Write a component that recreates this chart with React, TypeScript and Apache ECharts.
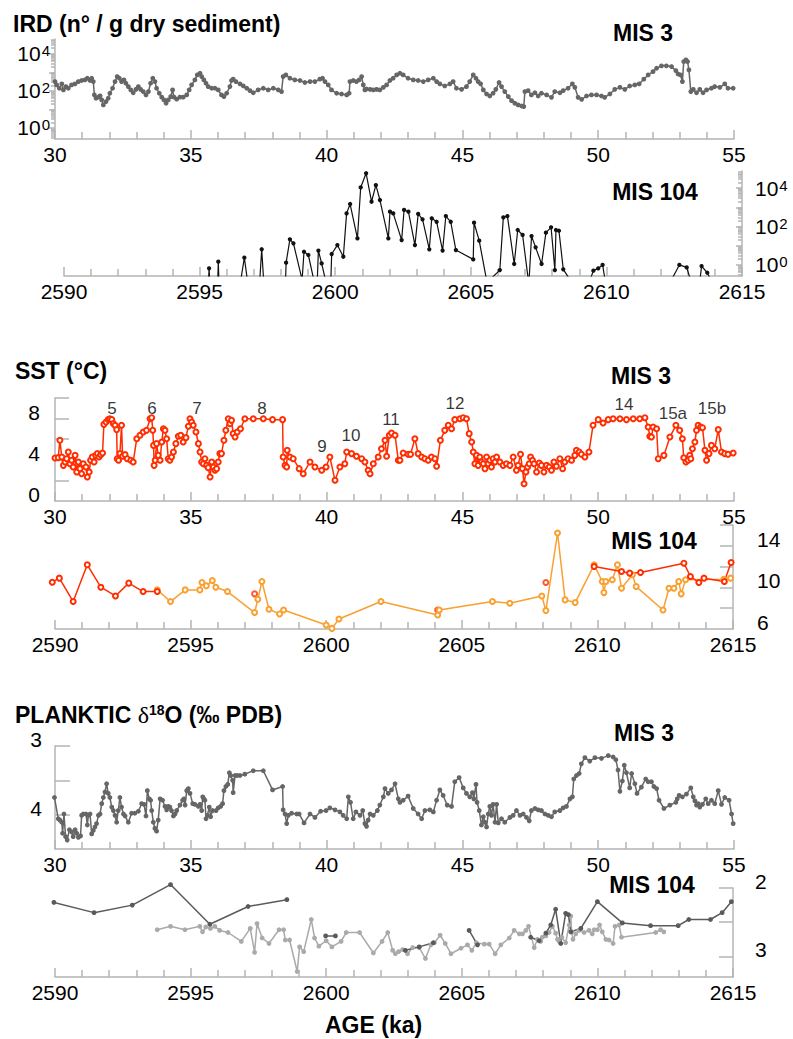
import React, { useEffect, useRef } from 'react';
import * as echarts from 'echarts';

const FONT = '"Liberation Sans", Arial, Helvetica, sans-serif';
const AXIS = '#b4b4b4';
const RED = '#ff2d00';
const ORANGE = '#f9a030';
const GRAY = '#666666';

// ---------- X ranges ----------
const mis3Range = [30, 55];
const mis104Range = [2590, 2615];

// ---------- IRD (log10 of n/g dry sediment) ----------
const irdMis3: number[][] = [
  [30.00,2.50],[30.06,2.32],[30.16,2.14],[30.25,2.38],[30.31,2.05],[30.40,2.23],[30.49,2.14],[30.61,2.32],[30.74,2.38],[30.86,2.50],[30.98,2.56],[31.10,2.59],[31.19,2.68],[31.29,2.56],[31.35,2.68],[31.41,2.50],[31.45,1.78],[31.51,1.60],[31.60,1.66],[31.66,1.73],[31.72,1.51],[31.78,1.24],[31.88,1.42],[31.96,1.60],[32.02,1.87],[32.12,2.14],[32.21,2.50],[32.29,2.77],[32.37,2.68],[32.45,2.50],[32.54,2.59],[32.61,2.41],[32.70,2.23],[32.79,2.05],[32.88,1.90],[32.98,2.08],[33.07,2.23],[33.15,2.08],[33.25,1.96],[33.35,1.78],[33.44,1.96],[33.52,2.41],[33.60,2.68],[33.68,2.50],[33.74,2.14],[33.84,1.87],[33.93,1.66],[34.01,1.51],[34.09,1.33],[34.17,1.51],[34.26,1.69],[34.33,2.05],[34.38,1.66],[34.48,1.55],[34.60,1.66],[34.72,1.66],[34.85,1.78],[34.94,2.05],[35.03,2.32],[35.15,2.59],[35.24,2.86],[35.34,2.95],[35.40,2.77],[35.48,2.59],[35.56,2.41],[35.64,2.23],[35.77,2.14],[35.89,2.14],[36.01,2.05],[36.13,1.78],[36.22,1.69],[36.32,1.87],[36.44,2.23],[36.50,2.56],[36.56,2.63],[36.66,2.50],[36.81,2.38],[36.93,2.27],[37.06,2.14],[37.18,2.01],[37.30,1.90],[37.48,2.05],[37.67,2.14],[37.85,2.05],[38.04,2.14],[38.22,2.05],[38.34,1.96],[38.40,2.77],[38.50,2.86],[38.65,2.68],[38.83,2.59],[39.02,2.56],[39.20,2.45],[39.39,2.50],[39.57,2.50],[39.75,2.63],[39.85,2.68],[39.94,2.50],[40.06,2.32],[40.18,2.05],[40.37,1.87],[40.55,1.83],[40.74,1.78],[40.83,1.87],[40.86,2.50],[40.98,2.56],[41.10,2.50],[41.20,2.59],[41.29,2.77],[41.35,2.32],[41.41,2.05],[41.47,2.10],[41.60,2.08],[41.72,2.05],[41.84,2.08],[41.96,2.05],[42.09,2.19],[42.21,2.32],[42.33,2.56],[42.45,2.68],[42.58,2.86],[42.70,2.95],
  [42.82,2.86],[43.00,2.68],[43.19,2.59],[43.37,2.56],[43.56,2.50],[43.74,2.59],[43.93,2.68],[44.05,2.50],[44.17,2.38],[44.35,2.26],[44.54,2.38],[44.66,2.50],[44.78,2.14],[44.97,2.08],[45.15,2.23],[45.27,2.50],[45.40,2.86],[45.50,2.68],[45.58,2.50],[45.67,2.38],[45.77,2.05],[45.89,1.83],[46.01,1.72],[46.13,1.87],[46.23,2.08],[46.35,2.45],[46.44,2.23],[46.56,1.96],[46.69,1.69],[46.81,1.47],[46.93,1.33],[47.05,1.24],[47.18,1.18],[47.26,1.15],[47.30,1.96],[47.42,2.01],[47.54,1.78],[47.67,1.90],[47.79,1.72],[47.91,1.87],[48.10,1.78],[48.28,1.65],[48.40,1.96],[48.59,1.90],[48.71,2.01],[48.89,2.14],[49.05,2.38],[49.14,2.19],[49.26,1.65],[49.39,1.54],[49.57,1.72],[49.75,1.78],[49.94,1.78],[50.12,1.72],[50.24,1.65],[50.43,1.83],[50.61,2.08],[50.80,2.19],[50.98,2.08],[51.16,2.26],[51.35,2.32],[51.51,2.38],[51.68,2.63],[51.84,2.86],[52.02,3.04],[52.15,3.22],[52.33,3.35],[52.51,3.35],[52.70,3.31],[52.86,3.09],[52.94,2.91],[53.03,2.86],[53.10,2.50],[53.15,3.58],[53.23,3.67],[53.29,3.58],[53.34,3.13],[53.41,1.96],[53.50,2.08],[53.62,1.90],[53.74,2.08],[53.86,1.90],[53.99,2.05],[54.17,2.14],[54.29,2.23],[54.48,2.19],[54.66,2.38],[54.78,2.14],[54.97,2.14],
];

// samples with no IRD (0 n/g) are drawn just below the axis floor (-0.8)
const irdMis104: number[][] = [
  [2595.33,-0.8],[2595.35,-0.20],[2595.37,-0.8],
  [2595.67,-0.8],[2595.69,0.15],[2595.71,-0.8],
  [2596.52,-0.8],[2596.65,0.36],[2596.76,-0.8],
  [2597.22,-0.8],[2597.29,0.80],[2597.36,-0.8],
  [2598.17,-0.8],[2598.19,0.10],[2598.33,1.32],[2598.46,1.11],[2598.78,-0.8],
  [2598.80,-0.8],[2598.85,0.67],[2599.01,0.50],[2599.21,-0.8],
  [2599.34,-0.8],[2599.38,0.73],[2599.50,0.06],[2599.64,-0.8],
  [2599.84,-0.8],[2599.87,0.55],[2600.08,1.02],[2600.30,0.41],[2600.42,2.68],[2600.55,3.17],[2600.82,1.37],[2600.94,4.04],[2601.14,4.78],[2601.34,3.29],[2601.50,4.16],[2601.65,3.38],[2601.96,1.37],[2602.02,2.77],[2602.14,2.68],[2602.45,1.28],[2602.54,2.86],[2602.70,2.77],[2602.94,1.02],[2603.06,2.65],[2603.22,2.37],[2603.47,0.80],[2603.56,2.42],[2603.74,2.24],[2603.96,0.73],[2604.08,2.54],[2604.26,2.24],[2604.45,0.76],[2605.09,0.27],[2605.12,2.19],[2605.31,1.25],[2605.58,-0.8],
  [2605.70,-0.8],[2606.07,-0.29],[2606.20,2.47],[2606.35,2.54],[2606.60,0.03],[2606.73,1.81],[2606.91,1.55],[2607.12,-0.8],
  [2607.15,-0.8],[2607.24,1.49],[2607.39,0.90],[2607.61,0.03],[2607.77,1.67],[2607.96,1.95],[2608.10,-0.29],[2608.14,1.81],[2608.25,1.77],[2608.41,-0.25],[2608.66,-0.8],
  [2609.40,-0.8],[2609.52,-0.32],[2609.70,-0.20],[2609.86,-0.02],[2609.95,-0.8],
  [2612.40,-0.8],[2612.69,-0.02],[2612.96,-0.15],[2613.10,-0.8],
  [2613.45,-0.8],[2613.51,-0.08],[2613.72,-0.43],[2613.85,-0.8],
];

// ---------- SST (°C) ----------
const sstMis3: number[][] = [
  [30.00,4.17],[30.12,4.21],[30.18,5.89],[30.25,4.27],[30.31,3.46],[30.37,3.79],[30.43,4.11],[30.49,4.76],[30.55,3.62],[30.61,3.95],[30.67,3.30],[30.74,4.43],[30.80,2.82],[30.86,3.79],[30.92,3.14],[30.98,2.65],[31.04,3.62],[31.14,3.30],[31.19,2.33],[31.26,2.82],[31.31,3.95],[31.37,4.27],[31.44,3.79],[31.50,4.43],[31.56,4.60],[31.62,4.27],[31.68,4.50],[31.75,4.66],[31.80,7.44],[31.88,7.67],[31.96,7.90],[32.02,7.99],[32.09,7.90],[32.15,7.51],[32.21,7.35],[32.27,6.93],[32.29,4.11],[32.34,3.95],[32.39,4.60],[32.45,7.35],[32.49,4.34],[32.58,4.50],[32.66,4.11],[32.79,3.95],[32.88,3.79],[33.01,6.05],[33.13,6.38],[33.25,6.70],[33.37,6.86],[33.50,7.99],[33.56,8.09],[33.60,6.86],[33.63,5.40],[33.65,3.46],[33.69,3.95],[33.74,5.57],[33.80,4.43],[33.87,3.95],[33.93,5.73],[33.99,7.02],[34.05,6.86],[34.11,6.05],[34.17,4.11],[34.23,3.95],[34.29,4.27],[34.36,4.76],[34.45,5.57],[34.54,6.28],[34.63,6.38],[34.72,5.73],[34.82,6.15],[34.91,7.25],[34.97,7.99],[35.03,7.67],[35.09,7.35],[35.19,6.70],[35.28,5.57],[35.34,4.76],[35.40,3.79],[35.46,3.62],[35.52,4.11],[35.58,3.46],[35.64,3.24],[35.71,2.33],[35.77,3.79],[35.83,3.30],[35.89,2.98],[35.95,3.14],[36.01,3.79],[36.07,4.60],[36.13,4.60],[36.22,5.89],[36.29,6.86],[36.38,7.99],[36.44,7.51],[36.50,7.83],[36.56,6.54],[36.63,6.21],[36.71,6.70],[36.83,7.02],[36.99,7.99],[37.30,7.99],[37.67,7.99],[38.01,7.90],[38.38,7.90],[38.40,4.27],[38.47,3.46],[38.53,3.30],[38.55,4.92],[38.65,4.27],[38.77,4.11],[38.99,3.14],[39.14,2.65],[39.39,3.79],[39.57,3.30],[39.82,2.98],[39.98,3.30],[40.12,4.27],[40.31,2.01],[40.49,3.30],[40.67,3.62],[40.74,4.76],[40.92,4.60],[41.10,4.34],[41.29,4.11],[41.41,3.79],[41.53,2.98],[41.60,2.65],[41.72,3.62],[41.90,4.27],[42.02,5.08],[42.15,5.89],[42.21,4.34],[42.31,6.38],[42.39,6.60],[42.52,6.38],[42.64,3.95],[42.70,3.95],
  [42.82,4.66],[43.00,4.53],[43.09,4.53],[43.25,6.05],[43.37,4.60],[43.50,4.27],[43.62,4.11],[43.74,3.95],[43.86,4.27],[43.99,4.11],[44.05,3.37],[44.19,5.89],[44.35,6.86],[44.48,7.35],[44.60,7.02],[44.72,7.90],[44.91,7.99],[45.03,8.09],[45.15,7.99],[45.25,6.54],[45.34,5.73],[45.40,4.76],[45.46,3.62],[45.52,4.43],[45.58,3.46],[45.64,4.27],[45.70,3.79],[45.77,3.62],[45.83,3.14],[45.89,4.27],[45.95,3.62],[46.01,3.95],[46.07,3.30],[46.13,4.11],[46.20,3.79],[46.26,4.27],[46.38,3.79],[46.50,3.46],[46.62,3.62],[46.75,3.46],[46.87,4.27],[46.99,2.98],[47.05,3.46],[47.14,4.53],[47.21,3.14],[47.27,1.68],[47.34,2.82],[47.40,3.30],[47.46,3.62],[47.51,4.27],[47.58,3.95],[47.64,3.62],[47.73,2.82],[47.83,3.69],[47.91,3.46],[48.00,2.82],[48.10,3.46],[48.20,3.30],[48.28,2.98],[48.37,3.79],[48.46,3.37],[48.59,4.11],[48.69,3.14],[48.77,3.79],[48.89,4.11],[49.02,3.95],[49.14,4.43],[49.20,4.92],[49.30,4.76],[49.38,4.53],[49.51,4.27],[49.66,4.76],[49.81,7.35],[50.00,7.90],[50.18,7.57],[50.37,7.90],[50.55,7.99],[50.80,7.99],[51.04,7.90],[51.29,7.99],[51.53,7.99],[51.72,8.09],[51.84,7.18],[51.90,6.28],[51.96,6.21],[52.02,7.18],[52.15,7.02],[52.21,4.11],[52.42,4.43],[52.64,6.21],[52.86,7.35],[53.00,6.86],[53.10,6.05],[53.15,4.20],[53.23,3.79],[53.31,3.95],[53.37,4.43],[53.41,4.11],[53.47,5.08],[53.56,5.73],[53.62,6.86],[53.68,7.35],[53.77,7.18],[53.84,7.12],[53.93,4.92],[53.99,3.95],[54.08,4.60],[54.17,5.40],[54.29,5.08],[54.42,6.93],[54.54,4.76],[54.66,4.60],[54.78,4.53],[54.97,4.66],
];

// interstadial numbers, placed at (age, SST level)
const sstEventNames = ['5', '6', '7', '8', '9', '10', '11', '12', '14', '15a', '15b'];
const sstEventAges = [32.10, 33.57, 35.23, 37.62, 39.83, 40.90, 42.37, 44.73, 50.95, 52.75, 54.19];
const sstEventLevels = [9.0, 9.0, 9.0, 9.0, 5.3, 6.4, 7.9, 9.5, 9.4, 8.5, 9.0];

const sstMis104Red: (number | null)[][] = [
  [2589.90,10.50],[2590.16,10.89],[2590.67,8.64],[2591.19,12.17],[2591.69,10.02],[2592.23,9.18],[2592.72,10.41],[2593.25,9.60],[2593.77,9.60],
  [2600.00,null],
  [2609.88,12.01],[2610.89,11.53],[2611.19,11.37],[2611.59,11.43],[2613.19,12.33],[2613.43,11.05],[2613.74,10.47],[2613.93,10.89],[2614.68,10.57],[2614.93,12.40],
];
const sstMis104RedSingles: number[][] = [[2597.36,9.38],[2604.11,7.83],[2608.10,10.47]];
const sstMis104Orange: number[][] = [
  [2593.77,9.76],[2594.26,8.64],[2594.80,9.76],[2595.34,9.76],[2595.42,10.47],[2595.58,10.15],[2595.80,10.66],[2595.93,10.02],[2596.36,9.60],[2597.36,7.58],[2597.48,8.86],[2597.63,10.57],[2597.89,7.90],[2598.28,7.45],[2598.43,7.83],[2600.00,6.39],[2600.21,6.06],[2600.47,6.96],[2602.02,8.64],[2604.11,7.35],[2604.17,7.83],[2606.13,8.64],[2606.77,8.48],[2607.95,9.18],[2608.10,7.77],[2608.53,15.23],[2608.81,8.80],[2609.18,8.54],[2609.88,12.17],[2610.18,10.57],[2610.24,9.50],[2610.31,10.57],[2610.55,10.73],[2610.74,12.17],[2610.89,9.92],[2611.29,11.21],[2611.43,10.08],[2612.42,7.83],[2612.64,9.92],[2612.82,9.92],[2613.00,10.57],[2613.09,9.38],[2613.25,10.73],[2614.66,10.79],[2614.91,10.89],
];

// ---------- Planktic d18O (‰ PDB) ----------
const d18oMis3: number[][] = [
  [29.98,3.75],[30.12,4.06],[30.18,4.08],[30.25,4.11],[30.28,4.27],[30.33,3.99],[30.39,4.32],[30.45,4.37],[30.53,4.22],[30.61,4.25],[30.67,4.32],[30.74,4.22],[30.80,4.27],[30.86,4.33],[30.94,4.31],[30.98,4.01],[31.04,3.99],[31.14,3.99],[31.19,4.15],[31.23,4.01],[31.29,3.99],[31.35,4.28],[31.41,4.23],[31.47,4.18],[31.53,4.13],[31.60,4.01],[31.66,3.99],[31.72,3.84],[31.78,3.75],[31.84,3.67],[31.90,3.55],[31.96,3.69],[32.02,3.75],[32.09,3.89],[32.15,3.94],[32.21,4.01],[32.27,4.11],[32.33,3.94],[32.39,3.75],[32.45,3.89],[32.52,3.99],[32.58,4.02],[32.70,4.11],[32.82,3.98],[32.94,3.98],[33.07,3.95],[33.19,3.84],[33.28,3.85],[33.35,4.02],[33.40,3.65],[33.47,3.77],[33.52,3.79],[33.56,3.94],[33.62,4.11],[33.68,4.20],[33.74,4.24],[33.80,4.08],[33.87,3.77],[33.96,3.79],[34.05,3.88],[34.11,3.93],[34.17,3.88],[34.23,3.89],[34.29,3.94],[34.36,4.02],[34.42,3.99],[34.48,3.94],[34.60,3.86],[34.70,3.79],[34.75,3.77],[34.79,3.86],[34.85,3.65],[34.91,3.62],[34.97,3.69],[35.07,3.84],[35.15,3.85],[35.28,3.88],[35.34,3.85],[35.40,3.94],[35.44,3.74],[35.48,3.77],[35.52,3.79],[35.56,4.06],[35.61,4.01],[35.68,3.89],[35.73,4.03],[35.80,3.94],[35.93,3.94],[36.01,3.90],[36.10,3.88],[36.17,3.84],[36.22,3.65],[36.29,3.59],[36.36,3.56],[36.42,3.39],[36.47,3.43],[36.54,3.50],[36.56,3.68],[36.63,3.43],[36.71,3.43],[36.81,3.43],[36.99,3.41],[37.30,3.36],[37.67,3.36],[38.01,3.64],[38.38,3.59],[38.40,3.93],[38.47,3.99],[38.53,4.13],[38.59,4.01],[38.71,3.98],[38.90,3.99],[38.99,3.99],[39.17,4.12],[39.39,3.99],[39.57,4.04],[39.78,3.95],[39.98,3.94],[40.12,3.90],[40.31,3.93],[40.49,3.96],[40.61,4.01],[40.74,4.06],[40.80,3.74],[40.88,3.82],[40.98,4.06],[41.08,3.96],[41.23,4.01],[41.33,3.94],[41.41,4.13],[41.47,4.17],[41.53,4.08],[41.60,3.99],[41.72,4.01],[41.87,3.94],[41.96,3.86],[42.09,3.74],[42.15,3.62],[42.27,3.69],[42.39,3.64],[42.52,3.55],[42.64,3.77],[42.70,3.82],
  [42.82,3.79],[43.00,3.73],[43.19,3.91],[43.37,3.99],[43.50,4.06],[43.62,3.94],[43.80,3.93],[43.93,3.96],[44.05,3.79],[44.17,3.64],[44.29,3.72],[44.44,3.86],[44.60,3.88],[44.72,3.52],[44.88,3.46],[45.03,3.61],[45.15,3.69],[45.27,3.74],[45.37,3.68],[45.42,3.77],[45.50,3.56],[45.54,3.82],[45.62,3.94],[45.70,4.15],[45.77,4.03],[45.83,4.11],[45.89,4.18],[45.95,3.99],[46.01,3.88],[46.07,4.01],[46.13,3.85],[46.20,4.11],[46.26,3.85],[46.32,4.12],[46.44,4.06],[46.56,4.11],[46.75,4.04],[46.87,4.01],[46.99,3.94],[47.12,4.01],[47.24,3.99],[47.36,4.04],[47.46,4.09],[47.54,3.94],[47.67,3.91],[47.79,3.93],[47.91,3.94],[48.04,3.99],[48.16,4.01],[48.28,4.03],[48.40,3.96],[48.59,3.94],[48.71,3.90],[48.83,3.88],[48.96,3.77],[49.05,3.74],[49.10,3.48],[49.20,3.43],[49.30,3.40],[49.38,3.26],[49.51,3.17],[49.69,3.22],[49.88,3.17],[50.12,3.18],[50.37,3.14],[50.55,3.16],[50.65,3.20],[50.73,3.35],[50.80,3.66],[50.89,3.51],[50.96,3.28],[51.04,3.39],[51.16,3.61],[51.23,3.40],[51.35,3.55],[51.43,3.69],[51.59,3.60],[51.75,3.48],[51.84,3.52],[51.96,3.52],[52.05,3.59],[52.15,3.62],[52.24,3.79],[52.42,3.91],[52.64,3.86],[52.86,3.82],[52.91,3.77],[52.98,3.72],[53.10,3.74],[53.25,3.70],[53.41,3.61],[53.50,3.74],[53.56,3.80],[53.62,3.86],[53.68,3.84],[53.74,3.89],[53.84,3.85],[53.96,3.77],[54.05,3.84],[54.17,3.79],[54.29,3.84],[54.42,3.65],[54.54,3.85],[54.66,3.75],[54.82,3.79],[54.91,3.99],[54.97,4.13],
];

const d18oMis104Dark: (number | null)[][] = [
  [2589.96,2.21],[2591.44,2.36],[2592.85,2.25],[2594.26,1.95],[2595.71,2.53],[2597.12,2.27],[2598.55,2.17],
  [2599.50,null],
  [2599.98,2.70],[2600.34,2.70],
  [2601.50,null],
  [2602.92,2.91],[2603.43,2.86],[2603.95,2.80],
  [2604.50,null],
  [2605.27,2.62],[2605.58,2.83],
  [2606.50,null],
  [2607.54,2.72],[2607.85,2.77],[2608.10,2.66],[2608.28,2.54],[2608.46,2.31],[2608.65,2.81],[2608.83,2.37],[2608.93,2.39],[2609.02,2.64],[2609.39,2.59],[2610.00,2.20],[2610.92,2.51],[2611.96,2.55],[2612.98,2.55],[2613.37,2.46],[2614.17,2.46],[2614.60,2.36],[2614.94,2.20],
];
const d18oMis104Light: number[][] = [
  [2593.77,2.61],[2594.26,2.56],[2594.79,2.61],[2595.34,2.56],[2595.44,2.64],[2595.56,2.57],[2595.73,2.59],[2595.89,2.56],[2596.07,2.62],[2596.38,2.65],[2596.87,2.78],[2597.20,2.59],[2597.36,2.94],[2597.45,2.52],[2597.64,2.73],[2597.89,2.81],[2598.26,2.61],[2598.43,2.61],[2598.49,2.76],[2598.65,2.76],[2598.93,3.22],[2599.02,2.86],[2599.17,2.93],[2599.45,2.46],[2599.57,2.73],[2599.73,2.85],[2600.00,2.77],[2600.21,2.86],[2600.55,2.78],[2600.74,2.65],[2601.23,2.65],[2601.74,2.95],[2602.06,2.78],[2602.27,2.65],[2602.45,2.91],[2602.55,2.96],[2602.67,2.93],[2602.82,2.90],[2603.00,2.96],[2603.19,2.87],[2603.43,2.87],[2603.66,3.03],[2603.86,2.83],[2603.99,2.80],[2604.20,2.69],[2604.39,2.81],[2604.60,2.96],[2604.97,2.88],[2605.21,2.83],[2605.37,2.91],[2605.54,2.80],[2605.83,2.82],[2606.01,2.82],[2606.23,2.96],[2606.44,2.83],[2606.75,2.73],[2606.93,2.62],[2607.12,2.67],[2607.24,2.67],[2607.36,2.62],[2607.46,2.56],[2607.67,2.87],[2607.79,2.75],[2607.91,2.78],[2607.97,2.72],[2608.10,2.70],[2608.22,2.65],[2608.34,2.56],[2608.46,2.66],[2608.53,2.75],[2608.59,2.78],[2608.69,2.72],[2608.83,2.80],[2608.96,2.54],[2609.02,2.41],[2609.05,2.64],[2609.10,2.75],[2609.20,2.67],[2609.32,2.62],[2609.51,2.65],[2609.69,2.62],[2609.81,2.67],[2609.88,2.61],[2610.00,2.61],[2610.08,2.54],[2610.18,2.64],[2610.31,2.75],[2610.43,2.76],[2610.58,2.81],[2610.65,2.56],[2610.80,2.54],[2610.89,2.72],[2612.15,2.65],[2612.33,2.61],[2612.45,2.64],
];

// ---------- tick values ----------
const irdMajorExps = [0, 1, 2, 3, 4];
const irdLabelExps = [0, 2, 4];
const sstMis3Ticks = [2, 4, 6, 8, 10];
const sstMis3Labels = [0, 4, 8];
const sstMis104Ticks = [8, 10, 12, 14, 16];
const sstMis104Labels = [6, 10, 14];
const d18oMis3Ticks = [3, 3.5, 4];
const d18oMis3Labels = [3, 4];
const d18oMis104Ticks = [2, 2.5, 3];
const d18oMis104Labels = [2, 3];

function logMinor(min: number, max: number): number[] {
  const out: number[] = [];
  for (let n = Math.floor(min); n <= Math.ceil(max); n++) {
    for (let k = 2; k <= 9; k++) {
      const v = n + Math.log10(k);
      if (v >= min && v <= max) out.push(v);
    }
  }
  return out;
}

const lineSt = { color: AXIS, width: 1.5 };

function xAxis(grid: number, range: number[]) {
  return {
    type: 'value', gridIndex: grid, min: range[0], max: range[1], interval: 5, position: 'bottom',
    axisLine: { show: true, onZero: false, lineStyle: lineSt },
    axisTick: { show: true, inside: true, length: 9, lineStyle: lineSt },
    minorTick: { show: true, splitNumber: 5, length: 7, lineStyle: lineSt },
    axisLabel: { color: '#000', fontSize: 21, fontFamily: FONT, margin: 5, formatter: (v: number) => String(v) },
    splitLine: { show: false }, minorSplitLine: { show: false },
  };
}

function yAxis(o: any) {
  const label: any = o.labels
    ? {
        show: true, customValues: o.labels, margin: o.margin, color: '#000', fontSize: 21, fontFamily: FONT,
        formatter: o.formatter || ((v: number) => String(v)), rich: o.rich,
      }
    : { show: false };
  if (o.labels && o.shiftUp) {
    label.verticalAlign = 'bottom';
    label.lineHeight = 13;
  }
  return {
    type: 'value', gridIndex: o.grid, position: o.pos, min: o.min, max: o.max, inverse: !!o.inverse,
    axisLine: { show: o.showLine !== false, onZero: false, lineStyle: lineSt },
    axisTick: { show: true, inside: o.inside, length: o.tickLen, customValues: o.ticks, lineStyle: lineSt },
    axisLabel: label,
    splitLine: { show: false },
  };
}

const powRich = {
  b: { fontSize: 21, fontFamily: FONT, color: '#000' },
  s: { fontSize: 15, fontFamily: FONT, color: '#000', verticalAlign: 'top', padding: [0, 0, 0, 1] },
};
const powFmt = (v: number) => `{b|10}{s|${Math.round(v)}}`;

function lineSeries(data: any[], xi: number, yi: number, color: string, symbol: string, size: number, width: number, clip = false) {
  return {
    type: 'line', xAxisIndex: xi, yAxisIndex: yi, data, color,
    symbol, symbolSize: size, showSymbol: true, connectNulls: false, clip, silent: true,
    lineStyle: { color, width }, itemStyle: { color, borderColor: color, borderWidth: 1.3 },
    emphasis: { disabled: true },
  };
}

function text(x: number, y: number, t: string, size: number, bold: boolean, align = 'left') {
  return {
    type: 'text', x, y, silent: true,
    style: { text: t, fontSize: size, fontWeight: bold ? 'bold' : 'normal', fontFamily: FONT, fill: '#000', align, verticalAlign: 'middle' },
  };
}

export default function App() {
  const ref = useRef<HTMLDivElement>(null);
  useEffect(() => {
    const chart = echarts.init(ref.current!, null, { renderer: 'svg' });
    const option: any = {
      animation: false,
      backgroundColor: '#ffffff',
      grid: [
        { left: 55, top: 39, width: 679, height: 100 },
        { left: 64, top: 171, width: 678, height: 105 },
        { left: 55, top: 398, width: 679, height: 103 },
        { left: 55, top: 525, width: 678, height: 104 },
        { left: 55, top: 746, width: 679, height: 103 },
        { left: 55, top: 888, width: 678, height: 89 },
      ],
      xAxis: [
        xAxis(0, mis3Range), xAxis(1, mis104Range), xAxis(2, mis3Range),
        xAxis(3, mis104Range), xAxis(4, mis3Range), xAxis(5, mis104Range),
      ],
      yAxis: [
        yAxis({ grid: 0, pos: 'left', min: -0.6, max: 4.8, ticks: irdMajorExps, labels: irdLabelExps, tickLen: 6, inside: false, margin: 5, formatter: powFmt, rich: powRich }),
        yAxis({ grid: 0, pos: 'left', min: -0.6, max: 4.8, ticks: logMinor(-0.6, 4.8), labels: null, tickLen: 4, inside: false, showLine: false }),
        yAxis({ grid: 1, pos: 'right', min: -0.6, max: 4.9, ticks: irdMajorExps, labels: irdLabelExps, tickLen: 6, inside: true, margin: 13, formatter: powFmt, rich: powRich }),
        yAxis({ grid: 1, pos: 'right', min: -0.6, max: 4.9, ticks: logMinor(-0.6, 4.9), labels: null, tickLen: 4, inside: true, showLine: false }),
        yAxis({ grid: 2, pos: 'left', min: 0, max: 10, ticks: sstMis3Ticks, labels: sstMis3Labels, tickLen: 14, inside: true, margin: 15, shiftUp: true }),
        yAxis({ grid: 3, pos: 'right', min: 6, max: 16, ticks: sstMis104Ticks, labels: sstMis104Labels, tickLen: 13, inside: true, margin: 24, shiftUp: true }),
        yAxis({ grid: 4, pos: 'left', min: 3, max: 4.5, inverse: true, ticks: d18oMis3Ticks, labels: d18oMis3Labels, tickLen: 15, inside: true, margin: 13, shiftUp: true }),
        yAxis({ grid: 5, pos: 'right', min: 2, max: 3.3, inverse: true, ticks: d18oMis104Ticks, labels: d18oMis104Labels, tickLen: 14, inside: true, margin: 22, shiftUp: true }),
      ],
      series: [
        lineSeries(irdMis3, 0, 0, GRAY, 'circle', 3.5, 1.5),
        lineSeries(irdMis104, 1, 2, '#111111', 'circle', 3, 1.2, true),
        lineSeries(sstMis3, 2, 4, RED, 'emptyCircle', 5, 1.5),
        {
          type: 'scatter', xAxisIndex: 2, yAxisIndex: 4, silent: true, symbol: 'circle', symbolSize: 1,
          itemStyle: { color: 'transparent' },
          data: sstEventNames.map((n, i) => ({ name: n, value: [sstEventAges[i], sstEventLevels[i]] })),
          label: { show: true, position: 'inside', formatter: '{b}', fontSize: 17, fontFamily: FONT, color: '#000' },
        },
        lineSeries(sstMis104Orange, 3, 5, ORANGE, 'emptyCircle', 5, 1.5),
        lineSeries(sstMis104Red, 3, 5, RED, 'emptyCircle', 5, 1.5),
        {
          type: 'scatter', xAxisIndex: 3, yAxisIndex: 5, silent: true, symbol: 'emptyCircle', symbolSize: 5,
          itemStyle: { color: RED, borderColor: RED, borderWidth: 1.3 }, data: sstMis104RedSingles,
        },
        lineSeries(d18oMis3, 4, 6, GRAY, 'circle', 3.5, 1.5),
        lineSeries(d18oMis104Light, 5, 7, '#aaaaaa', 'circle', 3.5, 1.5),
        lineSeries(d18oMis104Dark, 5, 7, '#5a5a5a', 'circle', 3.5, 1.5),
      ],
      graphic: [
        text(13, 24, 'IRD (n° / g dry sediment)', 23, true),
        text(643, 33, 'MIS 3', 23, true, 'center'),
        text(655, 192, 'MIS 104', 23, true, 'center'),
        text(15, 371, 'SST (°C)', 23, true),
        text(641, 376, 'MIS 3', 23, true, 'center'),
        text(654, 541, 'MIS 104', 23, true, 'center'),
        {
          type: 'text', x: 15, y: 715, silent: true,
          style: {
            text: '{t|PLANKTIC }{d|δ}{s|18}{t|O (‰ PDB)}', verticalAlign: 'middle', fill: '#000',
            rich: {
              t: { fontSize: 23, fontWeight: 'bold', fontFamily: FONT, fill: '#000' },
              d: { fontSize: 24, fontWeight: 'normal', fontFamily: '"Liberation Serif", "DejaVu Serif", serif', fill: '#000' },
              s: { fontSize: 14, fontWeight: 'bold', fontFamily: FONT, fill: '#000', verticalAlign: 'top' },
            },
          },
        },
        text(644, 733, 'MIS 3', 23, true, 'center'),
        text(652, 885, 'MIS 104', 23, true, 'center'),
        text(325, 1025, 'AGE (ka)', 23, true),
      ],
    };
    chart.setOption(option);
    return () => chart.dispose();
  }, []);
  return <div ref={ref} style={{ position: 'absolute', left: 0, top: 0, width: 793, height: 1039 }} />;
}
